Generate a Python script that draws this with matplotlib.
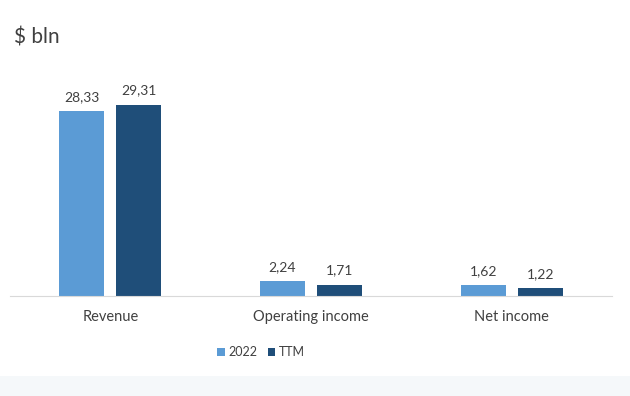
import numpy as np
import matplotlib.pyplot as plt
from matplotlib.patches import Rectangle

# Données
categories = ['Revenue', 'Operating income', 'Net income']
values_2022 = [28.33, 2.24, 1.62]
values_ttm = [29.31, 1.71, 1.22]
series_names = ['2022', 'TTM']

plt.rcParams['font.family'] = ['Lato', 'DejaVu Sans']
text_color = '#404040'
c_2022 = '#5B9BD5'
c_ttm = '#1F4E79'

fig = plt.figure(figsize=(6.3, 3.96), dpi=100)
fig.patch.set_facecolor('white')

# bande grise en bas
fig.patches.append(Rectangle((0, 0), 1, 20 / 396, transform=fig.transFigure,
                             facecolor='#F5F8FA', edgecolor='none', zorder=0))

ax = fig.add_axes([10 / 630, 100 / 396, 602 / 630, 235 / 396])
x = np.arange(len(categories))
w = 0.224
off = 0.142

b1 = ax.bar(x - off, values_2022, w, color=c_2022, label=series_names[0])
b2 = ax.bar(x + off, values_ttm, w, color=c_ttm, label=series_names[1])

for bars, vals in [(b1, values_2022), (b2, values_ttm)]:
    for bar, v in zip(bars, vals):
        ax.annotate(f'{v:.2f}'.replace('.', ','),
                    (bar.get_x() + bar.get_width() / 2, bar.get_height()),
                    xytext=(0, 6), textcoords='offset points',
                    ha='center', va='bottom', fontsize=10, color=text_color)

ax.set_xlim(-0.5, 2.5)
ax.set_ylim(0, 36)
ax.set_xticks(x)
ax.set_xticklabels(categories, fontsize=10.5, color=text_color)
ax.tick_params(axis='x', length=0, pad=10)
ax.set_yticks([])
for s in ['top', 'right', 'left']:
    ax.spines[s].set_visible(False)
ax.spines['bottom'].set_color('#D9D9D9')

fig.text(14 / 630, 1 - 37 / 396, '$ bln', fontsize=15, color=text_color,
         ha='left', va='center')

fig.legend(loc='center', bbox_to_anchor=(261 / 630, 1 - 352 / 396),
           ncol=2, frameon=False, fontsize=9, labelcolor=text_color,
           handlelength=0.6, handleheight=0.6, handletextpad=0.3,
           columnspacing=0.8)

plt.savefig('out.png', dpi=100)
plt.close()
